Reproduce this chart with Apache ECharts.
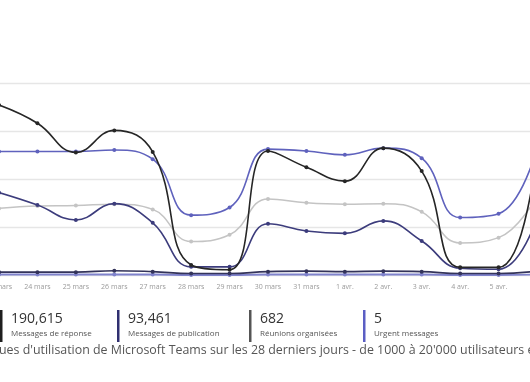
<!DOCTYPE html>
<html>
<head>
<meta charset="utf-8">
<script src="https://cdn.jsdelivr.net/npm/echarts@6/dist/echarts.min.js"></script>
<style>
  html, body { margin: 0; padding: 0; background: #ffffff; }
  #chart { width: 530px; height: 382px; }
</style>
</head>
<body>
<div id="chart"></div>
<script>
// Categories (days)
const categories = ['23 mars', '24 mars', '25 mars', '26 mars', '27 mars', '28 mars', '29 mars', '30 mars', '31 mars', '1 avr.', '2 avr.', '3 avr.', '4 avr.', '5 avr.', '6 avr.'];

// Series values (relative units)
const replyMessages   = [355, 317, 256, 302, 257, 21, 11, 259, 225, 196, 265, 217, 16, 16, 261];
const channelMessages = [258, 258, 258, 261, 242, 125, 141, 263, 259, 251, 265, 244, 120, 128, 265];
const activeUsers     = [139, 144, 145, 148, 137, 70, 84, 159, 151, 148, 149, 132, 67, 78, 165];
const postMessages    = [172, 146, 115, 149, 109, 17, 17, 107, 92, 87, 113, 71, 14, 12, 119];
const meetings        = [6, 6, 6, 9, 7, 3, 3, 7, 8, 7, 8, 7, 3, 3, 8];
const urgentMessages  = [1, 1, 1, 1, 1, 0, 0, 1, 1, 1, 1, 1, 0, 0, 1];

// Legend cards (visible part)
const legendValues = ['190,615', '93,461', '682', '5'];
const legendNames  = ['Messages de réponse', 'Messages de publication', 'Réunions organisées', 'Urgent messages'];
const legendColors = ['#1e1e1e', '#2f2f70', '#555555', '#5b5ec4'];
const legendX      = [0, 117, 249, 363];

const footerText = "ues d'utilisation de Microsoft Teams sur les 28 derniers jours - de 1000 à 20'000 utilisateurs e";

const FONT = '"Open Sans", "Noto Sans", sans-serif';

function line(name, data, color, width, z) {
  return {
    name: name, type: 'line', data: data, smooth: 0.45,
    symbol: 'circle', symbolSize: 4, showSymbol: true,
    lineStyle: { color: color, width: width },
    itemStyle: { color: color },
    z: z, animation: false
  };
}

const graphics = [];
legendValues.forEach(function (v, i) {
  graphics.push({
    type: 'rect', left: legendX[i], top: 310,
    shape: { x: 0, y: 0, width: 2.5, height: 32 },
    style: { fill: legendColors[i] }
  });
  graphics.push({
    type: 'text', left: legendX[i] + 11, top: 312,
    style: { text: v, font: '14px ' + FONT, fill: '#333333' }
  });
  graphics.push({
    type: 'text', left: legendX[i] + 11, top: 330,
    style: { text: legendNames[i], font: '8px ' + FONT, fill: '#555555' }
  });
});
graphics.push({
  type: 'text', left: -1, top: 344,
  style: { text: footerText, font: '12.4px ' + FONT, fill: '#555555' }
});

const chart = echarts.init(document.getElementById('chart'));
chart.setOption({
  backgroundColor: '#ffffff',
  animation: false,
  grid: { left: -1, right: -7, top: 83.5, bottom: 107, containLabel: false, outerBoundsMode: 'none' },
  xAxis: {
    type: 'category', data: categories, boundaryGap: false,
    axisLine: { show: false }, axisTick: { show: false },
    axisLabel: {
      color: '#9a9a9a', fontSize: 7, fontFamily: FONT, margin: 8,
      interval: function (idx) { return idx < categories.length - 1; }
    }
  },
  yAxis: {
    type: 'value', min: 0, max: 400, interval: 100,
    axisLabel: { show: false }, axisLine: { show: false }, axisTick: { show: false },
    splitLine: { lineStyle: { color: '#e6e6e6', width: 1.3 } }
  },
  series: [
    line('Utilisateurs actifs', activeUsers, '#c4c4c4', 1.5, 2),
    line('Messages de publication', postMessages, '#3c3c7c', 1.6, 3),
    line('Messages de canal', channelMessages, '#5f62bd', 1.6, 4),
    line('Messages de réponse', replyMessages, '#262626', 1.6, 5),
    line('Urgent messages', urgentMessages, '#7f82cc', 1.8, 6),
    line('Réunions organisées', meetings, '#33335a', 1.6, 7)
  ],
  graphic: graphics
});
</script>
</body>
</html>
